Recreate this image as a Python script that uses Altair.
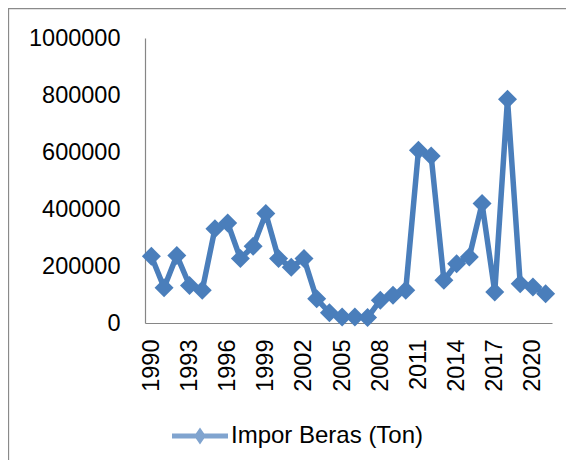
import altair as alt
import pandas as pd

years = list(range(1990, 2022))
impor = [234000, 124000, 237000, 132000, 115000, 331000, 351000, 226000,
         269000, 384000, 226000, 196000, 226000, 85000, 36000, 21000,
         21000, 19000, 80000, 97000, 115000, 606000, 586000, 150000,
         208000, 232000, 419000, 109000, 785000, 138000, 126000, 103000]
series_name = "Impor Beras (Ton)"
y_ticks = [0, 200000, 400000, 600000, 800000, 1000000]
x_label_years = years[::3]

df = pd.DataFrame({"Tahun": years, "Impor": impor, "Seri": series_name})

BLUE = "#4A7EBB"
FONT = "Liberation Sans"
W, H = 407, 285
PAD = {"left": 137, "top": 30, "right": 14, "bottom": 137}

legend_path = ("M-1,-0.09 L-0.147,-0.09 L0,-0.3 L0.147,-0.09 L1,-0.09 "
               "L1,0.09 L0.147,0.09 L0,0.3 L-0.147,0.09 L-1,0.09 Z")

x_enc = alt.X("Tahun:O",
              scale=alt.Scale(type="point", padding=0.5),
              axis=alt.Axis(values=x_label_years, title=None, ticks=False,
                            labelAngle=270, labelAlign="right", labelBaseline="middle",
                            labelPadding=16, labelFont=FONT, labelFontSize=23.5,
                            labelColor="#000000", domainColor="#868686",
                            domainWidth=1.2, grid=False))
y_enc = alt.Y("Impor:Q",
              scale=alt.Scale(domain=[0, 1000000], nice=False),
              axis=alt.Axis(values=y_ticks, title=None, ticks=False, grid=False,
                            labelPadding=25, labelFont=FONT, labelFontSize=23.5,
                            labelColor="#000000", domainColor="#868686",
                            domainWidth=1.2, format="d"))

base = alt.Chart(df)

line = base.mark_line(color=BLUE, strokeWidth=5.5).encode(x=x_enc, y=y_enc)
points = base.mark_point(shape="diamond", filled=True, color=BLUE, size=361,
                         opacity=1).encode(x=x_enc, y=y_enc)
legend_layer = base.mark_point(filled=True, size=0).encode(
    x=x_enc, y=y_enc,
    color=alt.Color("Seri:N", scale=alt.Scale(range=[BLUE]),
                    legend=alt.Legend(title=None, orient="none", legendX=27, legendY=370,
                                      padding=0, symbolSize=3136, symbolStrokeWidth=0,
                                      labelFont=FONT, labelFontSize=24, labelColor="#000000",
                                      labelOffset=3, labelLimit=400)),
    shape=alt.Shape("Seri:N", scale=alt.Scale(range=[legend_path]), legend=None),
)

frame_top = alt.Chart(pd.DataFrame({"a": [0]})).mark_rule(color="#8a8a8a", strokeWidth=1.3).encode(
    x=alt.value(-137), x2=alt.value(W + PAD["right"]), y=alt.value(-29.5))
frame_left = alt.Chart(pd.DataFrame({"a": [0]})).mark_rule(color="#8a8a8a", strokeWidth=1.3).encode(
    x=alt.value(-136.5), y=alt.value(-30), y2=alt.value(H + PAD["bottom"]))

chart = alt.layer(frame_top, frame_left, line, points, legend_layer).properties(
    width=W, height=H,
    padding=PAD,
    autosize=alt.AutoSizeParams(type="none"),
    background="white",
).configure_view(stroke=None)

chart.save("out.html", embed_options={"renderer": "svg", "actions": False})
